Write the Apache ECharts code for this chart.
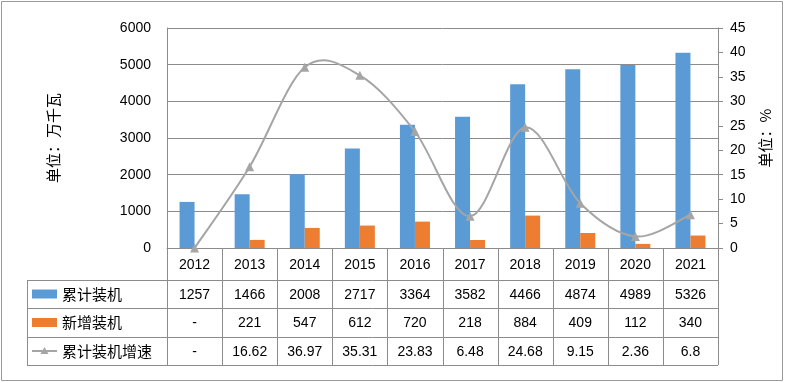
<!DOCTYPE html>
<html><head><meta charset="utf-8">
<script src="https://cdn.jsdelivr.net/npm/echarts@6/dist/echarts.min.js"></script>
<style>html,body{margin:0;padding:0;background:#fff}#c{width:785px;height:383px}</style>
</head><body><div id="c"></div>
<script>
const categories = ['2012','2013','2014','2015','2016','2017','2018','2019','2020','2021'];
const cumulative = [1257,1466,2008,2717,3364,3582,4466,4874,4989,5326];
const added = ['-',221,547,612,720,218,884,409,112,340];
const growth = [0,16.62,36.97,35.31,23.83,6.48,24.68,9.15,2.36,6.8];
const growthLabels = ['-','16.62','36.97','35.31','23.83','6.48','24.68','9.15','2.36','6.8'];
const seriesNames = ['累计装机','新增装机','累计装机增速'];

const numFont = '"Liberation Sans", Arial, sans-serif';
const cjkFont = '"Noto Sans CJK SC", sans-serif';
const G = {left:167, right:718, top:28, bottom:248};
const chart = echarts.init(document.getElementById('c'));

function buildTable(){
  const els = [];
  const colW = (G.right - G.left) / categories.length;
  const rows = [248, 280, 308, 337, 365];
  const legX = 27;
  const lc = '#8c8c8c';
  els.push({type:'rect', shape:{x:1.5,y:1.5,width:781,height:379}, style:{fill:null, stroke:'#9a9a9a', lineWidth:1}, silent:true});
  for (let r = 1; r < rows.length; r++) {
    els.push({type:'line', shape:{x1:legX, y1:rows[r]+0.5, x2:G.right, y2:rows[r]+0.5}, style:{stroke:lc, lineWidth:1}});
  }
  for (let i = 0; i <= categories.length; i++) {
    const x = Math.round(G.left + i*colW) + 0.5;
    els.push({type:'line', shape:{x1:x, y1:rows[0], x2:x, y2:rows[4]}, style:{stroke:lc, lineWidth:1}});
  }
  els.push({type:'line', shape:{x1:legX+0.5, y1:rows[1], x2:legX+0.5, y2:rows[4]}, style:{stroke:lc, lineWidth:1}});
  const rowData = [cumulative.map(String), added.map(String), growthLabels];
  const colors = ['#5B9BD5','#ED7D31','#A5A5A5'];
  for (let r = 0; r < 3; r++) {
    const cy = (rows[r+1] + rows[r+2]) / 2;
    if (r < 2) {
      els.push({type:'rect', shape:{x:32, y:cy-4.5, width:25, height:9}, style:{fill:colors[r]}});
    } else {
      els.push({type:'line', shape:{x1:32, y1:cy, x2:57, y2:cy}, style:{stroke:colors[r], lineWidth:2}});
      els.push({type:'polygon', shape:{points:[[44.5,cy-4],[48.5,cy+3],[40.5,cy+3]]}, style:{fill:colors[r]}});
    }
    els.push({type:'text', x:62, y:cy, style:{text:seriesNames[r], font:'15px '+cjkFont, fill:'#000', verticalAlign:'middle', align:'left'}});
    for (let i = 0; i < categories.length; i++) {
      els.push({type:'text', x:G.left + (i+0.5)*colW, y:cy+1, style:{text:rowData[r][i], font:'14px '+numFont, fill:'#000', align:'center', verticalAlign:'middle'}});
    }
  }
  return els;
}

// Excel-style smooth curve (Catmull-Rom -> cubic Bezier) drawn via axis coords
function renderCurve(params, api){
  if (params.dataIndex !== 0) return null;
  const pts = growth.map((v,i) => api.coord([i, v]));
  const t = 1/6;
  let d = 'M' + pts[0][0] + ' ' + pts[0][1];
  for (let i = 0; i < pts.length - 1; i++) {
    const p0 = pts[Math.max(i-1,0)], p1 = pts[i], p2 = pts[i+1], p3 = pts[Math.min(i+2, pts.length-1)];
    const c1 = [p1[0] + (p2[0]-p0[0])*t, p1[1] + (p2[1]-p0[1])*t];
    const c2 = [p2[0] - (p3[0]-p1[0])*t, p2[1] - (p3[1]-p1[1])*t];
    d += ' C' + c1[0] + ' ' + c1[1] + ' ' + c2[0] + ' ' + c2[1] + ' ' + p2[0] + ' ' + p2[1];
  }
  return {type:'path', shape:{pathData:d}, style:{fill:null, stroke:'#A5A5A5', lineWidth:2}};
}

chart.setOption({
  animation:false,
  grid:{left:G.left, right:785-G.right, top:G.top, bottom:383-G.bottom},
  xAxis:{type:'category', data:categories,
    axisLine:{lineStyle:{color:'#8c8c8c'}}, axisTick:{show:false},
    axisLabel:{color:'#000', fontSize:14, fontFamily:numFont, margin:10}},
  yAxis:[
    {type:'value', min:0, max:6000, interval:1000,
     name:'单位：万千瓦', nameLocation:'middle', nameGap:106, nameRotate:90,
     nameTextStyle:{color:'#000', fontSize:15, fontFamily:cjkFont},
     axisLine:{show:true, lineStyle:{color:'#8c8c8c'}}, axisTick:{show:false},
     axisLabel:{color:'#000', fontSize:14, fontFamily:numFont, margin:16, formatter:v => String(v)},
     splitLine:{lineStyle:{color:'#8c8c8c'}}},
    {type:'value', min:0, max:45, interval:5,
     name:'单位：%', nameLocation:'middle', nameGap:40, nameRotate:90,
     nameTextStyle:{color:'#000', fontSize:15, fontFamily:cjkFont},
     axisLine:{show:true, lineStyle:{color:'#8c8c8c'}},
     axisTick:{show:true, length:5, lineStyle:{color:'#8c8c8c'}},
     axisLabel:{color:'#000', fontSize:14, fontFamily:numFont, margin:12},
     splitLine:{show:false}}
  ],
  series:[
    {name:seriesNames[0], type:'bar', data:cumulative, barWidth:15, barGap:'0%', itemStyle:{color:'#5B9BD5'}},
    {name:seriesNames[1], type:'bar', data:added, barWidth:15, barGap:'0%', itemStyle:{color:'#ED7D31'}},
    {name:seriesNames[2]+'曲线', type:'custom', yAxisIndex:1, data:growth.map((v,i)=>[i,v]),
     encode:{x:0, y:1}, renderItem:renderCurve, clip:false, z:3},
    {name:seriesNames[2], type:'line', yAxisIndex:1, data:growth,
     symbol:'triangle', symbolSize:9, lineStyle:{opacity:0, width:0},
     itemStyle:{color:'#A5A5A5'}, z:4}
  ],
  graphic: buildTable()
});
</script></body></html>
